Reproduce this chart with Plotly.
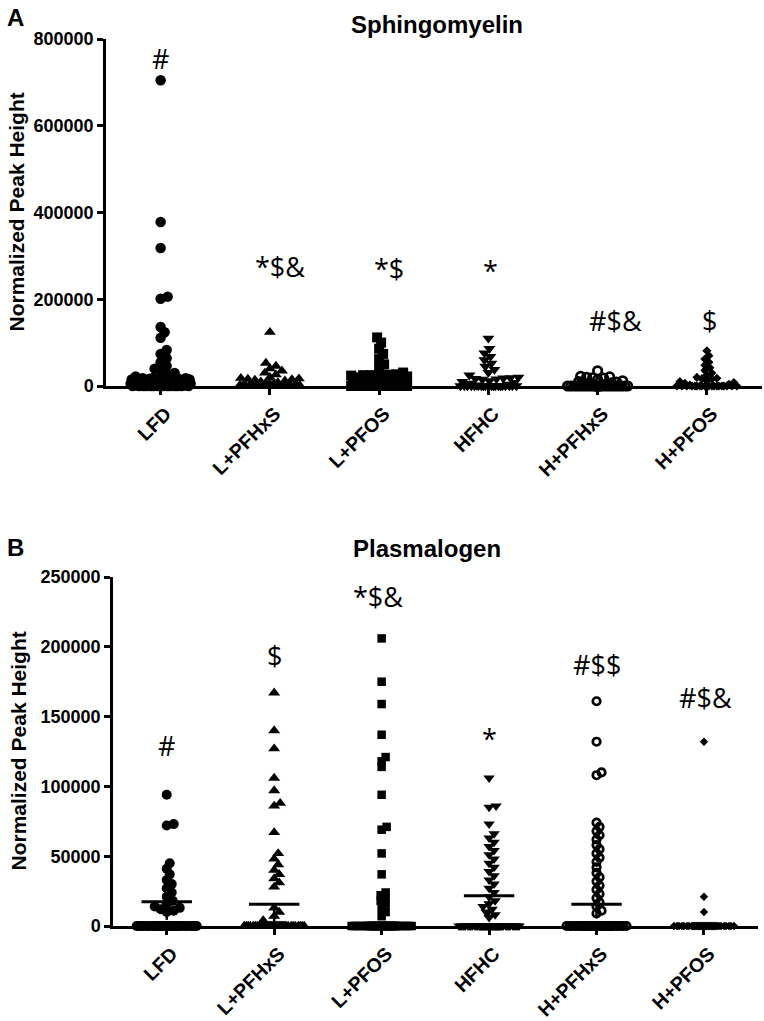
import numpy as np
import plotly.graph_objects as go

# ---------------- data ----------------
categories = ["LFD", "L+PFHxS", "L+PFOS", "HFHC", "H+PFHxS", "H+PFOS"]

# Panel A: Sphingomyelin, normalized peak height
sm_LFD = [705000, 378000, 318000, 206000, 201000, 136000, 124000, 111000, 83000, 74000,
          64000, 55000, 46000, 40000, 35000, 30000, 26000, 22000, 20000, 19000, 18000,
          18000, 17000, 17000, 16000, 16000, 15000, 15000, 14000, 14000, 13000, 12000,
          11000, 10000, 9000, 8000, 7000, 6000, 5000, 5000, 4000, 4000, 3000, 3000,
          2000, 2000, 1000, 1000] + [0] * 15
sm_LPFHxS = [124000, 53000, 46000, 40000, 35000, 30000, 26000, 20000, 18000, 17000,
             16000, 15000, 14000, 12000, 10000, 8000, 6000, 5000, 4000, 3000, 2000,
             1000] + [0] * 25
sm_LPFOS = [112000, 100000, 86000, 74000, 62000, 50000, 41000, 31000, 27000, 26000,
            26000, 25000, 25000, 24000, 24000, 22000, 20000, 20000, 19000, 18000, 16000,
            14000, 12000, 10000, 8000, 6000, 4000, 2000] + [0] * 20
sm_HFHC = [110000, 86000, 76000, 68000, 60000, 52000, 45000, 38000, 31000, 25000, 20000,
           19000, 18000, 17000, 16000, 15000, 12000, 10000, 8000, 6000, 4000,
           2000] + [0] * 20
sm_HPFHxS = [35000, 22000, 21000, 20000, 19000, 18000, 15000, 12000, 10000, 9000, 8000,
             7000, 6000, 5000, 4000, 3000, 2000, 1000] + [0] * 25
sm_HPFOS = [81000, 70000, 62000, 55000, 48000, 42000, 36000, 30000, 25000, 20000, 18000,
            17000, 16000, 12000, 10000, 8000, 6000, 4000, 2000] + [0] * 20

# Panel B: Plasmalogen, normalized peak height
pl_LFD = [94000, 73000, 72000, 45000, 41000, 37000, 33000, 30000, 27000, 24000,
          21000, 18000, 16000, 14000, 13000, 12000, 11000, 10000] + [0] * 40
pl_LPFHxS = [167000, 140000, 127000, 106000, 97000, 88000, 86000, 67000, 52000, 48000,
             44000, 40000, 37000, 34000, 31000, 28000, 13000, 10000, 7000,
             4000] + [0] * 40
pl_LPFOS = [206000, 175000, 159000, 137000, 121000, 118000, 114000, 94000, 71000, 69000,
            52000, 37000, 24000, 22000, 20000, 18000, 16000, 13000, 10000,
            7000] + [0] * 40
pl_HFHC = [106000, 86000, 85000, 73000, 66000, 63000, 60000, 57000, 54000, 51000, 48000,
           45000, 42000, 39000, 36000, 33000, 30000, 27000, 24000, 21000, 18000, 16000,
           14000, 12000, 10000, 8000, 6000] + [0] * 40
pl_HPFHxS = [161000, 132000, 110000, 108000, 74000, 71000, 68000, 65000, 62000, 58000,
             55000, 52000, 49000, 46000, 42000, 38000, 35000, 32000, 29000, 26000, 23000,
             20000, 17000, 14000, 11000, 9000] + [0] * 45
pl_HPFOS = [132000, 21000, 10000] + [0] * 40

# Plasmalogen central lines and lower error bars (None = not drawn)
pl_mean = [17400, 15500, None, 21700, 15500, None]
pl_err = [13000, 12400, None, 17400, 10000, None]

# significance labels
sig_A = ["#", "*$&", "*$", "*", "#$&", "$"]
sig_B = ["#", "$", "*$&", "*", "#$$", "#$&"]

# ---------------- layout helpers ----------------
FIG_W, FIG_H = 764, 1021


def fx(px):
    return px / FIG_W


def fy(py):
    return 1 - py / FIG_H


symbols = ["circle", "triangle-up", "square", "triangle-down", "circle-open", "diamond"]

panels = [
    dict(data=[sm_LFD, sm_LPFHxS, sm_LPFOS, sm_HFHC, sm_HPFHxS, sm_HPFOS],
         xpx=(106, 761.5), ypx=(39, 386), ymax=800000, dtick=200000,
         sizes=[10.5, 10.5, 10, 10.5, 8.5, 7], title="Sphingomyelin", title_x=437,
         title_y=24, letter="A", letter_y=18,
         sig=sig_A, sig_y=[755000, 275000, 270000, 267000, 152000, 152000],
         sig_dx=[0, 10, 10, 2, 18, 3]),
    dict(data=[pl_LFD, pl_LPFHxS, pl_LPFOS, pl_HFHC, pl_HPFHxS, pl_HPFOS],
         xpx=(113, 757.7), ypx=(577, 926), ymax=250000, dtick=50000,
         sizes=[10, 10.5, 8.5, 10, 7.5, 6.5], title="Plasmalogen", title_x=427,
         title_y=548, letter="B", letter_y=547,
         sig=sig_B, sig_y=[129600, 194000, 236000, 134400, 187000, 164000],
         sig_dx=[0, 0, -4, 0, 0, 2]),
]


def swarm(vals, unit_px, diam, cap):
    ys = np.asarray(vals, float) * unit_px
    order = np.argsort(ys, kind="stable")
    cands = [0.0]
    k = 1
    while k <= cap:
        cands += [float(k), float(-k)]
        k += 1
    cands = np.array(cands)
    offs = np.zeros(len(ys))
    pxs, pys = [], []
    for i in order:
        y = ys[i]
        j = 0
        if pxs:
            ax = np.array(pxs)
            ay = np.array(pys)
            near = np.abs(ay - y) < diam
            if near.any():
                dx = cands[:, None] - ax[near][None, :]
                dy = (ay[near] - y)[None, :]
                md = np.sqrt(dx ** 2 + dy ** 2).min(axis=1)
                ok = np.where(md >= diam)[0]
                j = int(ok[0]) if len(ok) else int(np.argmax(md))
        offs[i] = cands[j]
        pxs.append(cands[j])
        pys.append(y)
    return offs


fig = go.Figure()
annotations = []
FONT = "Liberation Sans, Arial, sans-serif"

for p_i, P in enumerate(panels):
    xa = "x" if p_i == 0 else "x2"
    ya = "y" if p_i == 0 else "y2"
    cat_px = (P["xpx"][1] - P["xpx"][0]) / len(categories)
    unit_px = (P["ypx"][1] - P["ypx"][0]) / P["ymax"]
    for g, vals in enumerate(P["data"]):
        size = P["sizes"][g]
        sym = symbols[g]
        diam = max(size, 8) * 0.62
        cap = 30 if sym != "circle-open" else 31
        offs = swarm(vals, unit_px, diam, cap)
        marker = dict(symbol=sym, size=size, color="black", line=dict(width=0))
        if sym == "circle-open":
            marker["line"] = dict(width=2.7, color="black")
        fig.add_trace(go.Scatter(
            x=g + offs / cat_px, y=vals, mode="markers", marker=marker,
            cliponaxis=False, showlegend=False, xaxis=xa, yaxis=ya,
            hoverinfo="y"))
    if p_i == 1:
        gx = [i for i, m in enumerate(pl_mean) if m is not None]
        fig.add_trace(go.Scatter(
            x=gx, y=[pl_mean[i] for i in gx], mode="markers",
            marker=dict(symbol="line-ew", size=36, color="black",
                        line=dict(width=3, color="black")),
            error_y=dict(type="data", symmetric=False, array=[0] * len(gx),
                         arrayminus=[pl_err[i] for i in gx], width=0,
                         thickness=2.5, color="black"),
            cliponaxis=False, showlegend=False, xaxis=xa, yaxis=ya))
    # significance marks
    for g, s in enumerate(P["sig"]):
        annotations.append(dict(
            x=g, y=P["sig_y"][g], xref=xa, yref=ya, text=s, showarrow=False,
            xanchor="center", yanchor="middle", xshift=P["sig_dx"][g],
            font=dict(family="Open Sans, DejaVu Sans, sans-serif", size=27,
                      color="black")))
    # panel title, letter, y title
    annotations.append(dict(
        x=fx(P["title_x"]), y=fy(P["title_y"]), xref="paper", yref="paper",
        text="<b>%s</b>" % P["title"], showarrow=False, xanchor="center",
        yanchor="middle", font=dict(family=FONT, size=24, color="black")))
    annotations.append(dict(
        x=fx(5), y=fy(P["letter_y"]), xref="paper", yref="paper",
        text="<b>%s</b>" % P["letter"], showarrow=False, xanchor="left",
        yanchor="middle", font=dict(family=FONT, size=24, color="black")))
    annotations.append(dict(
        x=fx(16 if p_i == 0 else 18), y=fy((P["ypx"][0] + P["ypx"][1]) / 2),
        xref="paper", yref="paper", text="<b>Normalized Peak Height</b>",
        textangle=-90, showarrow=False, xanchor="center", yanchor="middle",
        font=dict(family=FONT, size=21, color="black")))

axis_common = dict(showline=True, linewidth=2.5, linecolor="black", ticks="outside",
                   ticklen=6, tickwidth=2.5, tickcolor="black", showgrid=False,
                   zeroline=False, layer="below traces", automargin=False)

layout = dict(
    width=FIG_W, height=FIG_H,
    margin=dict(l=0, r=0, t=0, b=0, pad=0, autoexpand=False),
    plot_bgcolor="white", paper_bgcolor="white", showlegend=False,
    annotations=annotations,
)
for p_i, P in enumerate(panels):
    sfx = "" if p_i == 0 else "2"
    layout["xaxis" + sfx] = dict(
        axis_common, domain=[fx(P["xpx"][0]), fx(P["xpx"][1])],
        range=[-0.5, len(categories) - 0.5], tickmode="array",
        tickvals=list(range(len(categories))), ticktext=categories, tickangle=-45,
        tickfont=dict(family=FONT, size=19.5, color="black", weight="bold"),
        ticklabelshift=5,
        anchor="y" + sfx, fixedrange=True)
    layout["yaxis" + sfx] = dict(
        axis_common, domain=[fy(P["ypx"][1]), fy(P["ypx"][0])],
        range=[0, P["ymax"]], tickmode="linear", tick0=0, dtick=P["dtick"],
        tickformat="d", tickfont=dict(family=FONT, size=18, color="black",
                                      weight="bold"),
        anchor="x" + sfx, fixedrange=True)

fig.update_layout(**layout)
page_fix = ("document.documentElement.style.margin='0';"
            "document.documentElement.style.overflow='hidden';"
            "document.body.style.margin='0';"
            "document.body.style.overflow='hidden';")
fig.write_html("out.html", post_script=page_fix,
               config={"displayModeBar": False})
